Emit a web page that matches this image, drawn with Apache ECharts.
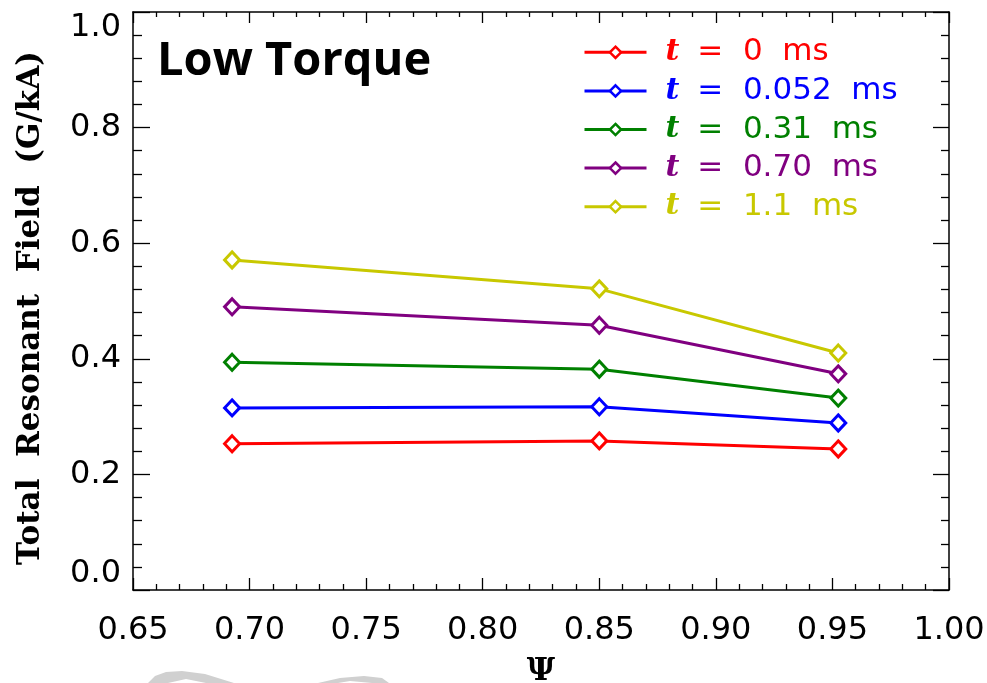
<!DOCTYPE html>
<html>
<head>
<meta charset="utf-8">
<script src="https://cdn.jsdelivr.net/npm/echarts@6/dist/echarts.min.js"></script>
<style>
  html, body { margin: 0; padding: 0; background: #fff; }
  #chart { width: 987px; height: 683px; }
</style>
</head>
<body>
<div id="chart"></div>
<script>
// Radial positions (normalised flux) where the field was evaluated
const psi = [0.6925, 0.85, 0.9525];

// Total resonant field (G/kA) at each time slice
const timeLabels = ['0', '0.052', '0.31', '0.70', '1.1'];
const field_t0    = [0.253, 0.258, 0.244];
const field_t0052 = [0.315, 0.317, 0.289];
const field_t031  = [0.394, 0.382, 0.332];
const field_t070  = [0.490, 0.458, 0.374];
const field_t11   = [0.571, 0.521, 0.410];
const seriesColors = ['#ff0000', '#0000ff', '#008000', '#800080', '#c8c800'];

// Axis tick labels
const xTicks = ['0.65', '0.70', '0.75', '0.80', '0.85', '0.90', '0.95', '1.00'];
const yTicks = ['0.0', '0.2', '0.4', '0.6', '0.8', '1.0'];

const fieldSets = [field_t0, field_t0052, field_t031, field_t070, field_t11];
const names = timeLabels.map(t => 't = ' + t + ' ms');

const series = fieldSets.map((vals, i) => ({
  name: names[i],
  type: 'line',
  data: vals.map((v, j) => [psi[j], v]),
  symbol: 'diamond',
  symbolSize: [15, 16],
  showAllSymbol: true,
  lineStyle: { color: seriesColors[i], width: 3 },
  itemStyle: { color: '#ffffff', borderColor: seriesColors[i], borderWidth: 3 },
  emphasis: { disabled: true },
  z: 3 + i
}));

const tickFont = { fontFamily: 'DejaVu Sans', fontSize: 32, color: '#000' };
const boxLine = { show: true, onZero: false, lineStyle: { color: '#000', width: 1.5 } };
const tickLine = { color: '#000', width: 1.3 };

const chart = echarts.init(document.getElementById('chart'), null, { renderer: 'canvas' });
chart.setOption({
  backgroundColor: '#ffffff',
  animation: false,
  grid: { left: 133, top: 12, right: 38, bottom: 93, containLabel: false, outerBoundsMode: 'none' },
  xAxis: [{
    type: 'value', min: 0.65, max: 1.0, interval: 0.05,
    name: 'Ψ', nameLocation: 'middle', nameGap: 66,
    nameTextStyle: { fontFamily: 'DejaVu Serif', fontWeight: 'bold', fontSize: 31, color: '#000' },
    axisLine: boxLine,
    axisTick: { inside: true, length: 12, lineStyle: tickLine },
    minorTick: { show: true, splitNumber: 5, length: 6, lineStyle: tickLine },
    splitLine: { show: false },
    axisLabel: { ...tickFont, margin: 25, formatter: v => xTicks[Math.round((v - 0.65) / 0.05)] }
  }, {
    type: 'value', min: 0.65, max: 1.0, interval: 0.05, position: 'top',
    axisLine: boxLine,
    axisTick: { inside: true, length: 11, lineStyle: tickLine },
    minorTick: { show: true, splitNumber: 5, length: 5, lineStyle: tickLine },
    splitLine: { show: false }, axisLabel: { show: false }
  }],
  yAxis: [{
    type: 'value', min: 0, max: 1.0, interval: 0.2,
    name: 'Total  Resonant  Field  (G/kA)', nameLocation: 'middle', nameGap: 87, nameRotate: 90,
    nameTextStyle: { fontFamily: 'DejaVu Serif', fontWeight: 'bold', fontSize: 31, color: '#000', padding: [0, 14, 0, 0] },
    axisLine: boxLine,
    axisTick: { inside: true, length: 17, lineStyle: tickLine },
    minorTick: { show: true, splitNumber: 5, length: 9, lineStyle: tickLine },
    splitLine: { show: false },
    axisLabel: {
      ...tickFont, margin: 12,
      verticalAlignMinLabel: 'bottom', verticalAlignMaxLabel: 'top',
      formatter: v => yTicks[Math.round(v / 0.2)]
    }
  }, {
    type: 'value', min: 0, max: 1.0, interval: 0.2, position: 'right',
    axisLine: boxLine,
    axisTick: { inside: true, length: 16, lineStyle: tickLine },
    minorTick: { show: true, splitNumber: 5, length: 8, lineStyle: tickLine },
    splitLine: { show: false }, axisLabel: { show: false }
  }],
  legend: {
    orient: 'vertical', left: 578, top: 29,
    itemWidth: 62, itemHeight: 14, itemGap: 2,
    lineStyle: { width: 3 },
    itemStyle: { borderWidth: 2.5 },
    data: names.map((n, i) => ({
      name: n,
      textStyle: {
        color: seriesColors[i],
        rich: {
          t: { color: seriesColors[i], fontStyle: 'italic', fontWeight: 'bold',
               fontFamily: 'DejaVu Serif', fontSize: 30, padding: [0, 8, 0, 14] },
          v: { color: seriesColors[i], fontFamily: 'DejaVu Sans', fontSize: 31, lineHeight: 36.6 }
        }
      }
    })),
    formatter: n => '{t|t}{v| =  ' + n.slice(4).replace(' ms', '  ms') + '}',
    textStyle: { fontFamily: 'DejaVu Sans', fontSize: 31, lineHeight: 36.6 },
    selectedMode: false
  },
  graphic: [
    {
      type: 'text', left: 157, top: 38, silent: true,
      style: { text: 'Low Torque', fontFamily: 'Open Sans', fontWeight: 'bold', fontSize: 47, fill: '#000' }
    },
    {
      type: 'polygon', silent: true,
      shape: { points: [[148, 683], [155, 676], [166, 672], [182, 671], [205, 674], [234, 683], [206, 683], [186, 679], [168, 683]] },
      style: { fill: '#d0d0d0' }
    },
    {
      type: 'polygon', silent: true,
      shape: { points: [[318, 683], [340, 678], [364, 676], [382, 678], [389, 683], [372, 683], [350, 681], [338, 683]] },
      style: { fill: '#d0d0d0' }
    }
  ],
  series: series
});
</script>
</body>
</html>
